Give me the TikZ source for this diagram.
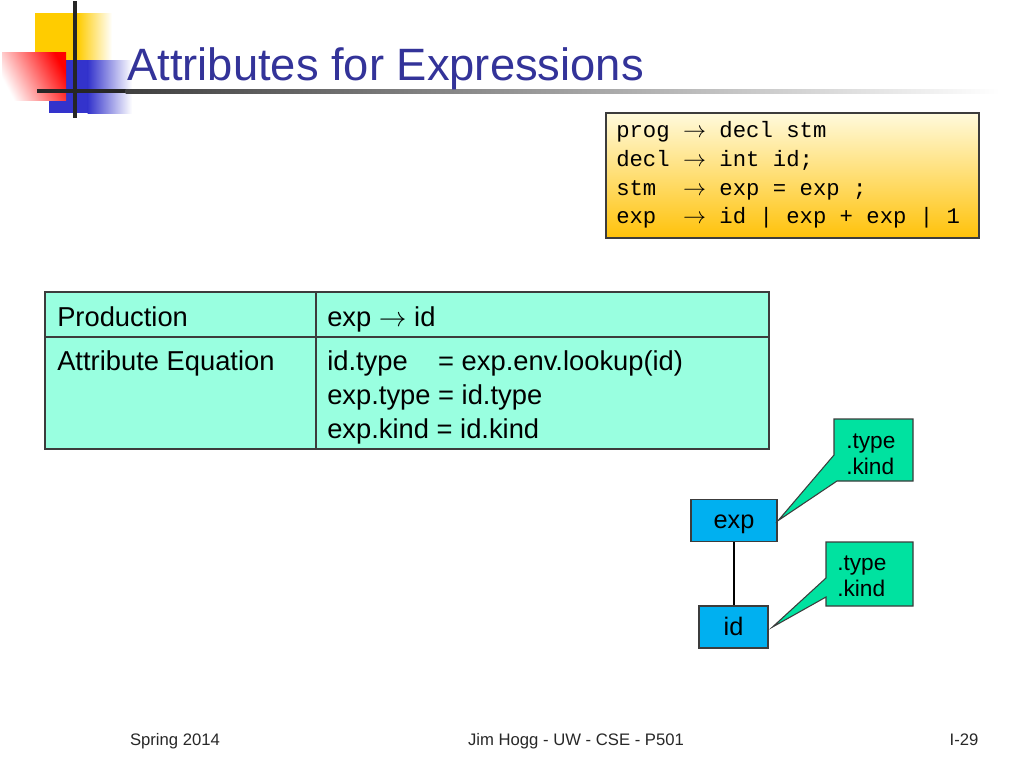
\documentclass[tikz,border=0pt]{standalone}
\usepackage{fontspec}
\setmainfont{Liberation Sans}
\setmonofont{Liberation Mono}
\definecolor{titleblue}{RGB}{51,51,153}
\definecolor{logoyellow}{RGB}{255,204,0}
\definecolor{logoblue}{RGB}{51,51,204}
\definecolor{logored}{RGB}{255,0,0}
\definecolor{tablefill}{RGB}{153,255,224}
\definecolor{treeblue}{RGB}{0,176,240}
\definecolor{callgreen}{RGB}{0,226,160}
\definecolor{boxline}{RGB}{60,60,60}
\definecolor{gramtop}{RGB}{255,250,220}
\definecolor{grammid}{RGB}{255,232,150}
\definecolor{grambot}{RGB}{255,194,10}
\definecolor{footgray}{RGB}{40,40,40}
\tikzset{
  tbl/.style={anchor=base west, inner sep=0pt, font=\fontsize{20.5}{24}\selectfont},
  gram/.style={anchor=base west, inner sep=0pt, font=\ttfamily\fontsize{16.7}{20}\selectfont},
  treebox/.style={draw=boxline, fill=treeblue, line width=0.8pt, inner sep=0pt, text height=12.4pt, text depth=0pt, font=\fontsize{19}{22}\selectfont},
  calltext/.style={anchor=base west, inner sep=0pt, font=\fontsize{17}{20}\selectfont},
  callout/.style={draw=boxline, fill=callgreen, line width=0.8pt, line join=miter},
  foot/.style={anchor=base, inner sep=0pt, font=\fontsize{12.5}{15}\selectfont, text=footgray},
  tableline/.style={draw=boxline, line width=1.1pt}
}
\begin{document}
\begin{tikzpicture}[x=0.75pt,y=-0.75pt]
\useasboundingbox (0,0) rectangle (1024,768);
\fill[white] (0,0) rectangle (1024,768);
% logo
\fill[logoyellow] (35,13) rectangle (78,60);
\shade[left color=logoyellow, right color=white] (77.5,13) rectangle (112,60);
\fill[logoblue] (49,60) rectangle (88,113);
\shade[left color=logoblue, right color=white] (87.5,60) rectangle (132,113);
\shade[top color=logored, bottom color=white, shading angle=-62] (2,52) rectangle (66,100);
\fill[black!85] (37,89) rectangle (126,93);
\shade[left color=black!75, middle color=gray!50, right color=white] (125.5,89.5) rectangle (1000,93.5);
\draw[line width=2.6pt, black!85] (75,1) -- (75,118);
% title
\node[anchor=base west, inner sep=0pt, text=titleblue, font=\fontsize{34}{40}\selectfont] (title) at (127,80) {Attributes for Expressions};
% grammar box
\shade[top color=gramtop, middle color=grammid, bottom color=grambot] (606,113) rectangle (979,238);
\draw[draw=boxline, line width=1.1pt] (606,113) rectangle (979,238);
\node[gram] (g1) at (616,137) {prog $\rightarrow$ decl stm};
\node[gram] (g2) at (616,166) {decl $\rightarrow$ int id;};
\node[gram] (g3) at (616,195) {stm\ \ $\rightarrow$ exp = exp ;};
\node[gram] (g4) at (616,223) {exp\ \ $\rightarrow$ id | exp + exp | 1};
% table
\fill[tablefill] (45,292) rectangle (769,449);
\draw[tableline] (45,292) rectangle (769,449);
\draw[tableline] (316,292) -- (316,449);
\draw[tableline] (45,337) -- (769,337);
\node[tbl] (prod) at (57,326) {Production};
\node[tbl] (prodrhs) at (327,326) {exp $\rightarrow$ id};
\node[tbl] (attr) at (57,370) {Attribute Equation};
\node[tbl] (eq1) at (327,370) {\rlap{id.type}\hphantom{exp.type} = exp.env.lookup(id)};
\node[tbl] (eq2) at (327,404) {exp.type = id.type};
\node[tbl] (eq3) at (327,438) {exp.kind = id.kind};
% tree
\node[treebox, minimum width=64.5pt, minimum height=31.5pt] (exp) at (734,520.5) {exp};
\node[treebox, minimum width=51.75pt, minimum height=31.5pt] (id) at (733.5,627) {id};
\draw[line width=1.5pt] (exp.south) -- (exp.south |- id.north);
% callouts
\draw[callout] (834,419) -- (913,419) -- (913,481) -- (837,481) -- ([xshift=0.5pt]exp.east) -- (834,455) -- cycle;
\draw[callout] (826,542) -- (913,542) -- (913,606) -- (826,606) -- (826,597) -- ([xshift=3pt]id.east) -- (826,578) -- cycle;
\node[calltext] (t1a) at (846,448) {.type};
\node[calltext] (t1b) at (846,474) {.kind};
\node[calltext] (t2a) at (837,570) {.type};
\node[calltext] (t2b) at (837,596) {.kind};
% footer
\node[foot] (f1) at (175,745) {Spring 2014};
\node[foot] (f2) at (576,745) {Jim Hogg - UW - CSE - P501};
\node[foot] (f3) at (964,745) {I-29};
\end{tikzpicture}
\end{document}
